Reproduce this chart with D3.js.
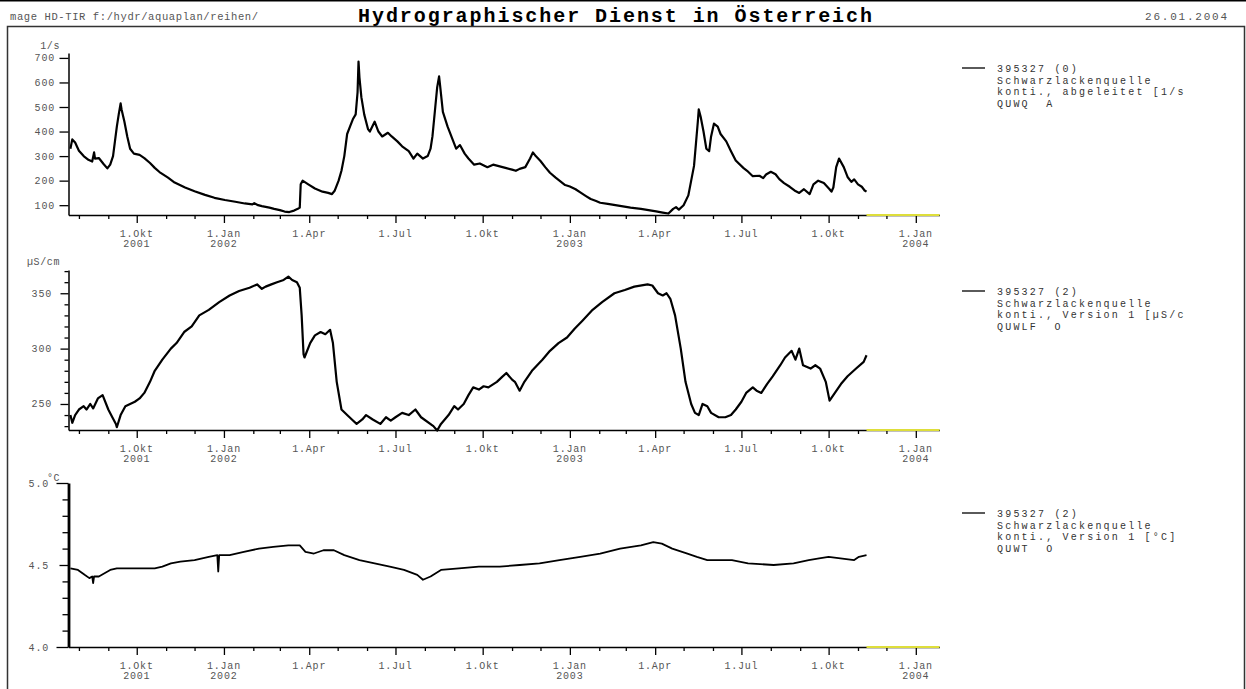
<!DOCTYPE html>
<html>
<head>
<meta charset="utf-8">
<script src="https://cdn.jsdelivr.net/npm/d3@7"></script>
<style>
body { margin: 0; background: #fff; }
text { font-family: "Liberation Mono", "DejaVu Sans Mono", monospace; }
</style>
</head>
<body>
<script>
// Abfluss [l/s]
var flowData = [
["2001-07-23",330],["2001-07-25",368],["2001-07-28",355],["2001-08-01",322],["2001-08-06",300],["2001-08-11",285],["2001-08-15",278],["2001-08-17",315],["2001-08-18",290],["2001-08-22",292],["2001-08-27",268],["2001-08-31",250],["2001-09-03",265],["2001-09-06",300],["2001-09-08",360],["2001-09-10",420],["2001-09-12",470],["2001-09-14",515],["2001-09-15",490],["2001-09-18",440],["2001-09-21",380],["2001-09-24",330],["2001-09-28",310],["2001-10-04",305],["2001-10-09",292],["2001-10-15",272],["2001-10-20",252],["2001-10-25",235],["2001-11-03",212],["2001-11-10",192],["2001-11-21",172],["2001-12-01",157],["2001-12-12",142],["2001-12-22",130],["2002-01-02",121],["2002-01-13",114],["2002-01-23",107],["2002-01-31",103],["2002-02-02",108],["2002-02-06",100],["2002-02-10",96],["2002-02-18",90],["2002-02-23",85],["2002-03-01",80],["2002-03-06",74],["2002-03-11",72],["2002-03-16",78],["2002-03-20",85],["2002-03-22",90],["2002-03-23",185],["2002-03-25",200],["2002-03-31",185],["2002-04-07",168],["2002-04-15",155],["2002-04-21",150],["2002-04-25",145],["2002-04-28",160],["2002-05-02",200],["2002-05-05",240],["2002-05-08",300],["2002-05-11",390],["2002-05-14",420],["2002-05-17",450],["2002-05-20",470],["2002-05-22",560],["2002-05-23",685],["2002-05-24",620],["2002-05-26",540],["2002-05-29",470],["2002-06-02",410],["2002-06-04",400],["2002-06-09",440],["2002-06-13",400],["2002-06-17",380],["2002-06-23",395],["2002-06-27",380],["2002-07-03",360],["2002-07-08",340],["2002-07-15",320],["2002-07-20",290],["2002-07-24",310],["2002-07-30",290],["2002-08-04",300],["2002-08-07",330],["2002-08-09",380],["2002-08-12",500],["2002-08-14",580],["2002-08-16",625],["2002-08-17",590],["2002-08-20",480],["2002-08-25",420],["2002-08-30",370],["2002-09-03",330],["2002-09-07",345],["2002-09-12",310],["2002-09-16",290],["2002-09-22",265],["2002-09-28",270],["2002-10-06",255],["2002-10-12",265],["2002-10-19",258],["2002-10-25",252],["2002-11-01",245],["2002-11-05",240],["2002-11-09",248],["2002-11-15",255],["2002-11-20",290],["2002-11-23",315],["2002-11-26",300],["2002-12-01",280],["2002-12-06",255],["2002-12-11",232],["2002-12-17",212],["2002-12-22",197],["2002-12-27",182],["2003-01-01",176],["2003-01-07",165],["2003-01-12",152],["2003-01-18",137],["2003-01-23",125],["2003-01-28",118],["2003-02-02",110],["2003-02-10",105],["2003-02-18",100],["2003-02-26",95],["2003-03-06",90],["2003-03-17",85],["2003-03-25",80],["2003-04-02",75],["2003-04-09",70],["2003-04-15",66],["2003-04-20",85],["2003-04-23",92],["2003-04-26",82],["2003-05-01",100],["2003-05-06",140],["2003-05-09",200],["2003-05-12",260],["2003-05-14",350],["2003-05-16",440],["2003-05-17",490],["2003-05-19",460],["2003-05-22",400],["2003-05-25",330],["2003-05-28",320],["2003-05-30",380],["2003-06-02",432],["2003-06-06",420],["2003-06-09",390],["2003-06-15",360],["2003-06-20",320],["2003-06-25",282],["2003-07-03",252],["2003-07-07",240],["2003-07-13",218],["2003-07-20",220],["2003-07-24",210],["2003-07-27",225],["2003-08-01",236],["2003-08-06",226],["2003-08-10",206],["2003-08-15",190],["2003-08-21",175],["2003-08-26",160],["2003-08-31",150],["2003-09-05",165],["2003-09-11",145],["2003-09-15",185],["2003-09-20",200],["2003-09-26",190],["2003-10-02",165],["2003-10-04",155],["2003-10-06",172],["2003-10-09",255],["2003-10-12",290],["2003-10-17",255],["2003-10-21",215],["2003-10-25",195],["2003-10-28",205],["2003-11-01",185],["2003-11-05",175],["2003-11-08",160],["2003-11-10",155]
];

// Leitfaehigkeit [uS/cm]
var condData = [
["2001-07-23",240],["2001-07-25",233],["2001-07-28",240],["2001-08-01",245],["2001-08-06",248],["2001-08-09",245],["2001-08-13",250],["2001-08-16",246],["2001-08-21",255],["2001-08-26",258],["2001-09-01",245],["2001-09-04",240],["2001-09-09",232],["2001-09-10",229],["2001-09-14",240],["2001-09-19",248],["2001-09-24",250],["2001-09-29",252],["2001-10-04",255],["2001-10-09",260],["2001-10-15",270],["2001-10-20",280],["2001-10-28",290],["2001-11-06",300],["2001-11-12",305],["2001-11-20",315],["2001-11-28",320],["2001-12-06",330],["2001-12-16",335],["2001-12-27",342],["2002-01-07",348],["2002-01-17",352],["2002-01-28",355],["2002-02-05",358],["2002-02-10",354],["2002-02-14",356],["2002-02-20",358],["2002-02-26",360],["2002-03-05",362],["2002-03-10",365],["2002-03-14",362],["2002-03-19",360],["2002-03-22",355],["2002-03-24",330],["2002-03-26",295],["2002-03-27",292],["2002-04-02",305],["2002-04-07",312],["2002-04-13",315],["2002-04-18",313],["2002-04-23",317],["2002-04-26",305],["2002-04-30",270],["2002-05-05",245],["2002-05-11",240],["2002-05-16",236],["2002-05-21",232],["2002-05-27",236],["2002-05-31",240],["2002-06-07",236],["2002-06-15",232],["2002-06-21",238],["2002-06-26",235],["2002-07-01",238],["2002-07-08",242],["2002-07-15",240],["2002-07-22",245],["2002-07-28",238],["2002-08-10",230],["2002-08-14",226],["2002-08-18",232],["2002-08-26",240],["2002-09-01",248],["2002-09-05",245],["2002-09-11",250],["2002-09-16",258],["2002-09-21",265],["2002-09-27",263],["2002-10-02",266],["2002-10-07",265],["2002-10-16",270],["2002-10-21",274],["2002-10-26",278],["2002-11-01",272],["2002-11-04",270],["2002-11-09",262],["2002-11-14",270],["2002-11-22",280],["2002-12-03",290],["2002-12-11",298],["2002-12-20",305],["2002-12-29",310],["2003-01-06",318],["2003-01-14",325],["2003-01-25",335],["2003-02-04",342],["2003-02-17",350],["2003-02-28",353],["2003-03-10",356],["2003-03-24",358],["2003-03-29",357],["2003-04-04",350],["2003-04-09",348],["2003-04-13",350],["2003-04-17",345],["2003-04-22",330],["2003-04-28",300],["2003-05-03",270],["2003-05-09",250],["2003-05-13",242],["2003-05-17",240],["2003-05-21",250],["2003-05-26",248],["2003-05-30",242],["2003-06-07",238],["2003-06-14",238],["2003-06-20",240],["2003-06-25",245],["2003-07-01",252],["2003-07-06",260],["2003-07-13",265],["2003-07-17",262],["2003-07-22",260],["2003-07-28",268],["2003-08-03",275],["2003-08-11",285],["2003-08-16",292],["2003-08-23",298],["2003-08-27",290],["2003-08-31",300],["2003-09-04",285],["2003-09-12",282],["2003-09-17",285],["2003-09-22",282],["2003-09-28",270],["2003-10-02",253],["2003-10-06",258],["2003-10-14",268],["2003-10-21",275],["2003-10-30",282],["2003-11-07",288],["2003-11-10",294]
];

// Wassertemperatur [°C]
var tempData = [
["2001-07-23",4.48],["2001-07-31",4.47],["2001-08-07",4.44],["2001-08-12",4.42],["2001-08-15",4.43],["2001-08-16",4.39],["2001-08-17",4.43],["2001-08-22",4.43],["2001-09-03",4.47],["2001-09-10",4.48],["2001-10-20",4.48],["2001-10-28",4.49],["2001-11-06",4.51],["2001-11-16",4.52],["2001-12-01",4.53],["2001-12-16",4.55],["2001-12-25",4.56],["2001-12-26",4.46],["2001-12-27",4.56],["2002-01-07",4.56],["2002-01-22",4.58],["2002-02-07",4.60],["2002-02-22",4.61],["2002-03-10",4.62],["2002-03-22",4.62],["2002-03-28",4.58],["2002-04-06",4.57],["2002-04-16",4.59],["2002-04-27",4.59],["2002-05-08",4.56],["2002-05-24",4.53],["2002-06-09",4.51],["2002-06-25",4.49],["2002-07-10",4.47],["2002-07-24",4.44],["2002-07-30",4.41],["2002-08-07",4.43],["2002-08-18",4.47],["2002-09-06",4.48],["2002-09-27",4.49],["2002-10-19",4.49],["2002-11-09",4.50],["2002-11-30",4.51],["2002-12-21",4.53],["2003-01-12",4.55],["2003-02-02",4.57],["2003-02-23",4.60],["2003-03-17",4.62],["2003-03-30",4.64],["2003-04-08",4.63],["2003-04-19",4.60],["2003-05-05",4.57],["2003-05-15",4.55],["2003-05-26",4.53],["2003-06-21",4.53],["2003-07-08",4.51],["2003-08-04",4.50],["2003-08-25",4.51],["2003-09-10",4.53],["2003-09-21",4.54],["2003-10-01",4.55],["2003-10-28",4.53],["2003-11-02",4.55],["2003-11-10",4.56]
];

var xStart = "2001-07-21", xEnd = "2004-01-26";
var monthNames = {0: 'Jan', 3: 'Apr', 6: 'Jul', 9: 'Okt'};

var flowTicks = [100, 200, 300, 400, 500, 600, 700];
var condTicks = [250, 300, 350];
var condMinor = [230, 240, 260, 270, 280, 290, 310, 320, 330, 340, 360, 370];
var tempTicks = [4.0, 4.5, 5.0];
var tempMinor = [4.1, 4.2, 4.3, 4.4, 4.6, 4.7, 4.8, 4.9];

var legend1 = ['395327 (0)', 'Schwarzlackenquelle', 'konti., abgeleitet [1/s', 'QUWQ  A'];
var legend2 = ['395327 (2)', 'Schwarzlackenquelle', 'konti., Version 1 [µS/c', 'QUWLF  O'];
var legend3 = ['395327 (2)', 'Schwarzlackenquelle', 'konti., Version 1 [°C]', 'QUWT  O'];

var svg = d3.select('body').append('svg')
  .attr('width', 1246)
  .attr('height', 689);

var parse = d3.timeParse('%Y-%m-%d');
var x0 = 68.5, x1 = 939.5;
var x = d3.scaleTime().domain([parse(xStart), parse(xEnd)]).range([x0, x1]);
var months = d3.timeMonth.range(parse('2001-08-01'), parse(xEnd));

// header
svg.append('line').attr('x1', 0).attr('x2', 1246).attr('y1', 0.75).attr('y2', 0.75)
  .attr('stroke', '#000').attr('stroke-width', 1.5);
svg.append('text').attr('x', 10).attr('y', 20)
  .attr('font-size', 10.5).attr('fill', '#555')
  .attr('textLength', 248).attr('lengthAdjust', 'spacing')
  .text('mage HD-TIR f:/hydr/aquaplan/reihen/');
svg.append('text').attr('x', 358).attr('y', 22)
  .attr('font-size', 20).attr('font-weight', 'bold').attr('fill', '#000')
  .attr('textLength', 514).attr('lengthAdjust', 'spacing')
  .text('Hydrographischer Dienst in Österreich');
svg.append('text').attr('x', 1145).attr('y', 20)
  .attr('font-size', 11).attr('fill', '#555')
  .attr('textLength', 82).attr('lengthAdjust', 'spacing')
  .text('26.01.2004');
svg.append('path')
  .attr('d', 'M7.5,689 V26.5 H1244.5 V689')
  .attr('fill', 'none').attr('stroke', '#333').attr('stroke-width', 1.5);

function drawPanel(data, domain, majors, minors, legend, p) {
  var y = d3.scaleLinear().domain(domain).range([p.bottom, p.top]);
  var g = svg.append('g');

  // x axis, monthly ticks, quarters long
  var xa = g.append('g')
    .attr('transform', 'translate(0,' + p.bottom + ')')
    .call(d3.axisBottom(x).tickValues(months).tickSize(8).tickSizeOuter(0).tickFormat(''));
  xa.select('.domain').attr('stroke-width', 1.5);
  xa.selectAll('.tick line')
    .attr('stroke-width', 1.3)
    .attr('y2', function(d){ return monthNames[d.getMonth()] ? 8 : 4; });

  var first = true;
  months.forEach(function(d){
    var m = d.getMonth();
    if (!monthNames[m]) return;
    g.append('text').attr('x', x(d)).attr('y', p.bottom + 22)
      .attr('text-anchor', 'middle').attr('font-size', 10).attr('letter-spacing', 0.8)
      .attr('fill', '#555').text('1.' + monthNames[m]);
    if (m == 0 || first) {
      g.append('text').attr('x', x(d)).attr('y', p.bottom + 32)
        .attr('text-anchor', 'middle').attr('font-size', 10).attr('letter-spacing', 0.8)
        .attr('fill', '#555').text(d.getFullYear());
    }
    first = false;
  });

  // no data after last reading -> yellow
  var last = parse(data[data.length - 1][0]);
  g.append('line')
    .attr('x1', x(last)).attr('x2', x1)
    .attr('y1', p.bottom).attr('y2', p.bottom)
    .attr('stroke', '#dede3a').attr('stroke-width', 2);

  // y axis
  var ya = g.append('g')
    .attr('transform', 'translate(' + x0 + ',0)')
    .call(d3.axisLeft(y).tickValues(majors.concat(minors)).tickSize(p.tickMajor).tickSizeOuter(0).tickFormat(''));
  ya.select('.domain').attr('stroke-width', p.axisW);
  ya.selectAll('.tick line')
    .attr('stroke-width', 1.3)
    .attr('x2', function(d){
      if (minors.indexOf(d) >= 0) return -p.tickMinor;
      if (p.tickEnd && (d == domain[0] || d == domain[1])) return -p.tickEnd;
      return -p.tickMajor;
    });
  majors.forEach(function(v){
    g.append('text').attr('x', p.labelX).attr('y', y(v)).attr('dy', '0.35em')
      .attr('text-anchor', 'end').attr('font-size', 10).attr('letter-spacing', 0.8)
      .attr('fill', '#555').text(d3.format(p.fmt)(v));
  });
  g.append('text').attr('x', p.unitX).attr('y', p.unitY)
    .attr('text-anchor', p.unitAnchor).attr('font-size', 10).attr('letter-spacing', 0.6)
    .attr('fill', '#555').text(p.unit);

  var line = d3.line()
    .x(function(d){ return x(parse(d[0])); })
    .y(function(d){ return y(d[1]); });
  g.append('path').datum(data)
    .attr('d', line)
    .attr('fill', 'none')
    .attr('stroke', '#000')
    .attr('stroke-width', p.lineW)
    .attr('stroke-linejoin', 'round');

  // legend
  g.append('line').attr('x1', 962).attr('x2', 985)
    .attr('y1', p.legendY - 4).attr('y2', p.legendY - 4)
    .attr('stroke', '#000').attr('stroke-width', 1.3);
  legend.forEach(function(t, i){
    g.append('text').attr('x', 997).attr('y', p.legendY + i * 11.5)
      .attr('font-size', 10).attr('letter-spacing', 2.2)
      .attr('fill', '#333').style('white-space', 'pre').text(t);
  });
}

drawPanel(flowData, [60, 720], flowTicks, [], legend1, {
  top: 53, bottom: 215, labelX: 55, tickMajor: 9, tickMinor: 4, axisW: 1.5, lineW: 2.2,
  fmt: 'd', unit: '1/s', unitX: 60, unitY: 49, unitAnchor: 'end', legendY: 72
});
drawPanel(condData, [226.5, 371], condTicks, condMinor, legend2, {
  top: 270, bottom: 430, labelX: 52, tickMajor: 8, tickMinor: 4, axisW: 1.5, lineW: 2.2,
  fmt: 'd', unit: 'µS/cm', unitX: 60, unitY: 265, unitAnchor: 'end', legendY: 295
});
drawPanel(tempData, [4.0, 5.0], tempTicks, tempMinor, legend3, {
  top: 483, bottom: 647, labelX: 49, tickMajor: 9, tickMinor: 6, tickEnd: 12, axisW: 2.8, lineW: 1.8,
  fmt: '.1f', unit: '°C', unitX: 47, unitY: 481, unitAnchor: 'start', legendY: 517
});
</script>
</body>
</html>
